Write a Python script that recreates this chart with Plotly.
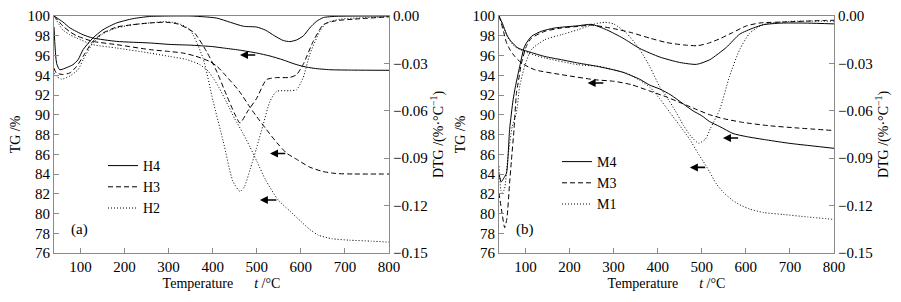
import plotly.graph_objects as go

# ---------------- data: panel (a) ----------------
H4_TG_T = [40, 60, 76, 106, 128, 182, 257, 303, 348, 400, 424, 460, 500, 530, 560, 585, 605, 630, 666, 720, 800]
H4_TG = [100, 99.4, 98.8, 98.1, 97.77, 97.43, 97.27, 97.12, 97.05, 96.9, 96.76, 96.55, 96.25, 95.95, 95.55, 95.15, 94.9, 94.7, 94.56, 94.52, 94.5]

H3_TG_T = [40, 60, 76, 91, 106, 128, 182, 257, 303, 332, 360, 393, 410, 431, 460, 484, 500, 522, 545, 568, 590, 620, 650, 680, 720, 800]
H3_TG = [100, 99.0, 98.4, 98.0, 97.75, 97.43, 97.1, 96.6, 96.4, 96.25, 95.95, 95.4, 94.9, 93.9, 92.4, 90.8, 89.8, 88.5, 87.2, 86.1, 85.5, 84.7, 84.25, 84.05, 84.0, 84.0]

H2_TG_T = [40, 60, 76, 91, 128, 182, 257, 303, 340, 370, 390, 400, 415, 431, 450, 469, 485, 500, 520, 548, 575, 600, 620, 640, 670, 710, 760, 800]
H2_TG = [100, 98.6, 98.1, 97.77, 97.1, 96.76, 96.25, 95.9, 95.6, 95.1, 94.4, 93.8, 92.7, 91.3, 89.6, 88.1, 86.7, 85.3, 83.4, 81.4, 80.25, 79.2, 78.4, 77.8, 77.45, 77.3, 77.2, 77.1]

H4_DTG_T = [40, 46, 53, 70, 83, 94.5, 106, 128.5, 151, 182, 219, 257, 300, 350, 380, 409, 440, 470, 500, 520, 540, 560, 575, 590, 606, 620, 635, 651, 680, 800]
H4_DTG = [-0.007, -0.030, -0.034, -0.0325, -0.0308, -0.0277, -0.0213, -0.0139, -0.0087, -0.0044, -0.0017, -0.0003, 0, 0, -0.0005, -0.0013, -0.004, -0.0065, -0.007, -0.009, -0.0125, -0.0155, -0.0162, -0.0152, -0.0125, -0.0076, -0.0035, -0.001, -0.0002, 0]

H3_DTG_T = [40, 45, 60, 76, 91, 106, 128, 151, 182, 219, 257, 295, 320, 340, 359, 386, 409, 431, 450, 462, 480, 500, 522, 545, 575, 590, 605, 628, 651, 680, 720, 800]
H3_DTG = [-0.033, -0.036, -0.037, -0.036, -0.032, -0.0256, -0.016, -0.0108, -0.007, -0.0055, -0.0044, -0.004, -0.005, -0.0075, -0.0108, -0.0224, -0.035, -0.0498, -0.062, -0.0677, -0.060, -0.052, -0.0403, -0.039, -0.0389, -0.0372, -0.0308, -0.0161, -0.0055, -0.003, -0.002, -0.0005]

H2_DTG_T = [40, 45, 57, 76, 94.5, 106, 128.5, 151, 182, 219, 257, 290, 320, 348, 378, 401, 424, 446, 462, 472, 485, 499.5, 514.5, 530, 545, 575, 590, 605, 620, 643, 658, 690, 800]
H2_DTG = [-0.036, -0.038, -0.040, -0.038, -0.034, -0.0277, -0.0171, -0.0112, -0.0076, -0.0055, -0.0044, -0.0036, -0.0045, -0.0085, -0.0266, -0.054, -0.0794, -0.1047, -0.111, -0.108, -0.097, -0.0836, -0.0688, -0.054, -0.0477, -0.0473, -0.0467, -0.0392, -0.0245, -0.0097, -0.0044, -0.002, -0.0005]

# ---------------- data: panel (b) ----------------
M4_TG_T = [40, 47, 53, 60, 68, 83, 106, 144, 182, 219, 257, 295, 321, 359, 382, 405, 430, 458, 480, 500, 518, 541, 571, 600, 647, 700, 750, 800]
M4_TG = [100, 99.3, 98.6, 97.9, 97.4, 96.76, 96.4, 95.9, 95.57, 95.24, 94.95, 94.6, 94.3, 93.6, 93.0, 92.6, 92.0, 91.1, 90.4, 89.9, 89.3, 88.8, 88.1, 87.8, 87.45, 87.1, 86.85, 86.6]

M3_TG_T = [40, 45, 51, 57, 66, 76, 91, 121, 182, 257, 302, 340, 382, 420, 458, 490, 518, 550, 590, 650, 720, 800]
M3_TG = [100, 99.3, 98.3, 97.3, 96.5, 95.9, 95.24, 94.56, 94.06, 93.55, 93.38, 93.05, 92.4, 91.8, 91.1, 90.5, 90.0, 89.6, 89.25, 88.9, 88.65, 88.4]

M1_TG_T = [40, 50, 60, 76, 106, 144, 219, 268, 295, 330, 359, 382, 405, 420, 450, 473, 490, 503, 518, 533, 550, 571, 590, 609, 640, 685, 740, 800]
M1_TG = [100, 99.0, 97.8, 96.9, 96.25, 95.75, 95.07, 94.9, 94.6, 94.2, 93.5, 92.8, 91.6, 90.7, 88.9, 87.5, 86.2, 85.3, 84.2, 83.0, 82.1, 81.3, 80.8, 80.45, 80.1, 79.9, 79.65, 79.4]

M4_DTG_T = [40, 45, 50, 57, 64, 72, 77, 87, 98, 113.5, 136, 166, 219, 250, 284, 321, 359, 405, 450, 488, 518, 556, 586, 617, 640, 680, 740, 800]
M4_DTG = [-0.100, -0.105, -0.103, -0.0994, -0.072, -0.053, -0.045, -0.0319, -0.0192, -0.0129, -0.0097, -0.0076, -0.0062, -0.0053, -0.0087, -0.014, -0.0205, -0.026, -0.0294, -0.0306, -0.0277, -0.0198, -0.0115, -0.0076, -0.0055, -0.0045, -0.0045, -0.005]

M3_DTG_T = [40, 47, 53, 58, 64, 68, 74, 79.5, 83, 91, 102, 113.5, 144, 182, 219, 250, 300, 340, 382, 420, 458, 490, 515, 540, 570, 601, 632, 685, 783, 800]
M3_DTG = [-0.112, -0.125, -0.134, -0.128, -0.106, -0.092, -0.072, -0.049, -0.043, -0.0298, -0.0192, -0.014, -0.0097, -0.0076, -0.0066, -0.0058, -0.008, -0.0105, -0.014, -0.0168, -0.0183, -0.0188, -0.0172, -0.0145, -0.0105, -0.0063, -0.0044, -0.0038, -0.0028, -0.0027]

M1_DTG_T = [40, 46, 52, 60, 70, 79.5, 87, 98, 113.5, 144, 182, 219, 257, 280, 300, 329, 359, 382, 405, 420, 440, 458, 475, 493, 508, 520, 541, 563, 586, 609, 639, 700, 800]
M1_DTG = [-0.095, -0.112, -0.11, -0.09, -0.07, -0.0614, -0.0446, -0.0319, -0.0213, -0.015, -0.0118, -0.0087, -0.005, -0.004, -0.005, -0.0108, -0.021, -0.032, -0.045, -0.051, -0.06, -0.069, -0.076, -0.0805, -0.078, -0.071, -0.059, -0.0382, -0.0213, -0.0108, -0.0055, -0.0034, -0.0034]

# axis ticks
X_TICKS = [100, 200, 300, 400, 500, 600, 700, 800]
TG_TICKS = [76, 78, 80, 82, 84, 86, 88, 90, 92, 94, 96, 98, 100]
DTG_TICKS = [-0.15, -0.12, -0.09, -0.06, -0.03, 0.00]

# arrows (tail temperature, head temperature, TG level)
ARROWS_A = [(500, 462, 96.05), (568, 530, 86.08), (548, 507, 81.37)]
ARROWS_B = [(280, 241, 93.21), (586, 548, 87.64), (511, 473, 84.67)]

FONT = "Liberation Serif"
AX = "#8a8a8a"
W, H = 901, 302

fig = go.Figure()

def add(x, y, name, dash, xa, ya, legend, show):
    fig.add_trace(go.Scatter(
        x=x, y=y, name=name, mode="lines",
        line=dict(color="black", width=1, dash=dash, shape="spline", smoothing=0.6),
        xaxis=xa, yaxis=ya, legend=legend, showlegend=show))

SOLID, DASH, DOT = "solid", "5px,3px", "1px,2px"

# panel a
add(H4_TG_T, H4_TG, "H4", SOLID, "x", "y", "legend", True)
add(H3_TG_T, H3_TG, "H3", DASH, "x", "y", "legend", True)
add(H2_TG_T, H2_TG, "H2", DOT, "x", "y", "legend", True)
add(H4_DTG_T, H4_DTG, "H4", SOLID, "x", "y2", "legend", False)
add(H3_DTG_T, H3_DTG, "H3", DASH, "x", "y2", "legend", False)
add(H2_DTG_T, H2_DTG, "H2", DOT, "x", "y2", "legend", False)
# panel b
add(M4_TG_T, M4_TG, "M4", SOLID, "x2", "y3", "legend2", True)
add(M3_TG_T, M3_TG, "M3", DASH, "x2", "y3", "legend2", True)
add(M1_TG_T, M1_TG, "M1", DOT, "x2", "y3", "legend2", True)
add(M4_DTG_T, M4_DTG, "M4", SOLID, "x2", "y4", "legend2", False)
add(M3_DTG_T, M3_DTG, "M3", DASH, "x2", "y4", "legend2", False)
add(M1_DTG_T, M1_DTG, "M1", DOT, "x2", "y4", "legend2", False)

tickfont = dict(family=FONT, size=15, color="black")
titlefont = dict(family=FONT, size=14, color="black")
ydom = [1 - 253 / H, 1 - 16 / H]

def xax(dom, anchor):
    return dict(domain=dom, anchor=anchor, range=[40, 800], tickvals=X_TICKS, automargin=False,
                ticks="inside", ticklen=5, tickcolor=AX, showline=True, linecolor=AX,
                mirror=True, showgrid=False, zeroline=False, tickfont=tickfont,
                title=dict(text="Temperature      <i>t</i> /°C", font=titlefont, standoff=4))

def ytg(anchor):
    return dict(domain=ydom, anchor=anchor, range=[76, 100], tickvals=TG_TICKS, automargin=False,
                ticks="inside", ticklen=5, tickcolor=AX, showline=True, linecolor=AX,
                showgrid=False, zeroline=False, tickfont=tickfont,
                title=dict(text="TG /%", font=titlefont, standoff=3))

def ydtg(anchor, over):
    return dict(domain=ydom, anchor=anchor, overlaying=over, side="right", range=[-0.15, 0],
                automargin=False,
                tickvals=DTG_TICKS, tickformat=".2f", ticks="inside", ticklen=5, tickcolor=AX,
                showline=True, linecolor=AX, showgrid=False, zeroline=False, tickfont=tickfont,
                title=dict(text="DTG /(%·°C<sup>−1</sup>)", font=titlefont, standoff=0))

annotations = []
for (tail, head, lvl) in ARROWS_A:
    annotations.append(dict(x=head, y=lvl, ax=tail, ay=lvl, xref="x", yref="y", axref="x", ayref="y",
                            showarrow=True, arrowhead=2, arrowsize=1, arrowwidth=1.6, arrowcolor="black", text=""))
for (tail, head, lvl) in ARROWS_B:
    annotations.append(dict(x=head, y=lvl, ax=tail, ay=lvl, xref="x2", yref="y3", axref="x2", ayref="y3",
                            showarrow=True, arrowhead=2, arrowsize=1, arrowwidth=1.6, arrowcolor="black", text=""))
annotations.append(dict(x=97, y=78.4, xref="x", yref="y", text="(a)", showarrow=False, font=tickfont))
annotations.append(dict(x=98, y=78.4, xref="x2", yref="y3", text="(b)", showarrow=False, font=tickfont))

legfont = dict(family=FONT, size=14, color="black")
fig.update_layout(
    width=W, height=H, margin=dict(l=0, r=0, t=0, b=0, autoexpand=False),
    paper_bgcolor="white", plot_bgcolor="white",
    font=dict(family=FONT, size=14, color="black"),
    xaxis=xax([54 / W, 389 / W], "y"),
    yaxis=ytg("x"),
    yaxis2=ydtg("x", "y"),
    xaxis2=xax([499 / W, 834 / W], "y3"),
    yaxis3=ytg("x2"),
    yaxis4=ydtg("x2", "y3"),
    legend=dict(x=103 / W, y=1 - 150 / H, xanchor="left", yanchor="top", font=legfont,
                bgcolor="rgba(0,0,0,0)", tracegroupgap=0, itemwidth=30),
    legend2=dict(x=557 / W, y=1 - 146 / H, xanchor="left", yanchor="top", font=legfont,
                 bgcolor="rgba(0,0,0,0)", tracegroupgap=0, itemwidth=30),
    annotations=annotations,
)

fig.write_html("out.html", config={"displayModeBar": False},
               post_script="document.body.style.margin='0px';")
